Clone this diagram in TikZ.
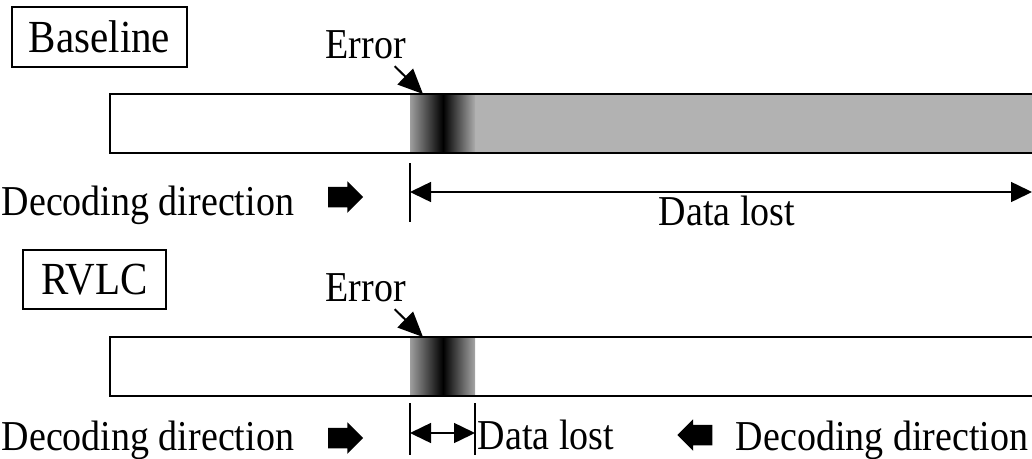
\documentclass[tikz,border=0pt]{standalone}
\usepackage{fontspec}
\usepackage{graphicx}
\setmainfont{Liberation Serif}
\usetikzlibrary{
	positioning
	,arrows.meta
	,shapes.arrows
}
\tikzset{
	label text/.style={
		inner sep=0
		,font=\fontsize{38}{45}\selectfont
	}
	,title box/.style={
		draw
		,line width=1.5pt
		,inner sep=0
		,font=\fontsize{41}{49}\selectfont
	}
	,stream/.style={
		draw
		,line width=2pt
	}
	,pointer/.style={
		line width=2pt
		,-{Triangle[length=25pt,width=22pt]}
	}
	,fat arrow/.style={
		single arrow
		,fill=black
		,inner xsep=0
		,inner ysep=9.5pt
		,minimum height=35pt
		,single arrow head extend=5.5pt
	}
}
\tikzset{
	>={Triangle[length=21pt,width=20pt]}
	,every picture/.append style={line width=1.5pt}
}
\newcommand{\tall}[1]{\scalebox{1}[1.12]{#1}}

\begin{document}
\begin{tikzpicture}[x=1pt, y=-1pt]
\useasboundingbox (0,0) rectangle (1032,458);

% baseline decoder
\node[title box, minimum width=175pt, minimum height=60pt] (base) at (99.5,37) {\tall{Baseline}};
\fill[black!30] (410,94) rectangle (1036,153);
\shade[left color=black!38, right color=black] (410,94) rectangle (443,153);
\shade[left color=black, right color=black!33] (443,94) rectangle (475,153);
\draw[stream] (110,94) rectangle (1036,153);
\node[label text, anchor=base west] (err1) at (325,58) {\tall{Error}};
\coordinate (hit1) at (423,94);
\draw[pointer] ([xshift=-12pt,yshift=-7pt]err1.south east) -- (hit1);
\node[label text, anchor=base west] (dec1) at (1,215) {\tall{Decoding direction}};
\node[fat arrow] (dir1) at (340.5,197) {};
\coordinate (cut1) at (410,163);
\coordinate (cut1b) at (410,222);
\draw (cut1) -- (cut1b);
\coordinate (lost1a) at (410,192);
\coordinate (lost1b) at (1032,192);
\draw[<->] (lost1a) -- (lost1b);
\node[label text, anchor=base] (lost1) at (727,225) {\tall{Data lost}};

% rvlc decoder
\node[title box, minimum width=143pt, minimum height=59pt] (rvlc) at (94.5,279.5) {\tall{RVLC}};
\shade[left color=black!38, right color=black] (410,337) rectangle (443,396);
\shade[left color=black, right color=black!35] (443,337) rectangle (475,396);
\draw[stream] (110,337) rectangle (1036,396);
\node[label text, anchor=base west] (err2) at (325,301) {\tall{Error}};
\coordinate (hit2) at (423,337);
\draw[pointer] ([xshift=-12pt,yshift=-7pt]err2.south east) -- (hit2);
\node[label text, anchor=base west] (dec2) at (1,450) {\tall{Decoding direction}};
\node[fat arrow] (dir2) at (340.5,438) {};
\coordinate (cut2a) at (410,403);
\coordinate (cut2b) at (410,455);
\coordinate (cut3a) at (475,403);
\coordinate (cut3b) at (475,455);
\draw (cut2a) -- (cut2b);
\draw (cut3a) -- (cut3b);
\coordinate (lost2a) at (410,433);
\coordinate (lost2b) at (475,433);
\draw[<->] (lost2a) -- (lost2b);
\node[label text, anchor=base west] (lost2) at (477,449) {\tall{Data lost}};
\node[fat arrow, shape border rotate=180] (dir3) at (700,435) {};
\node[label text, anchor=base east] (dec3) at (1029,450) {\tall{Decoding direction}};
\end{tikzpicture}
\end{document}
